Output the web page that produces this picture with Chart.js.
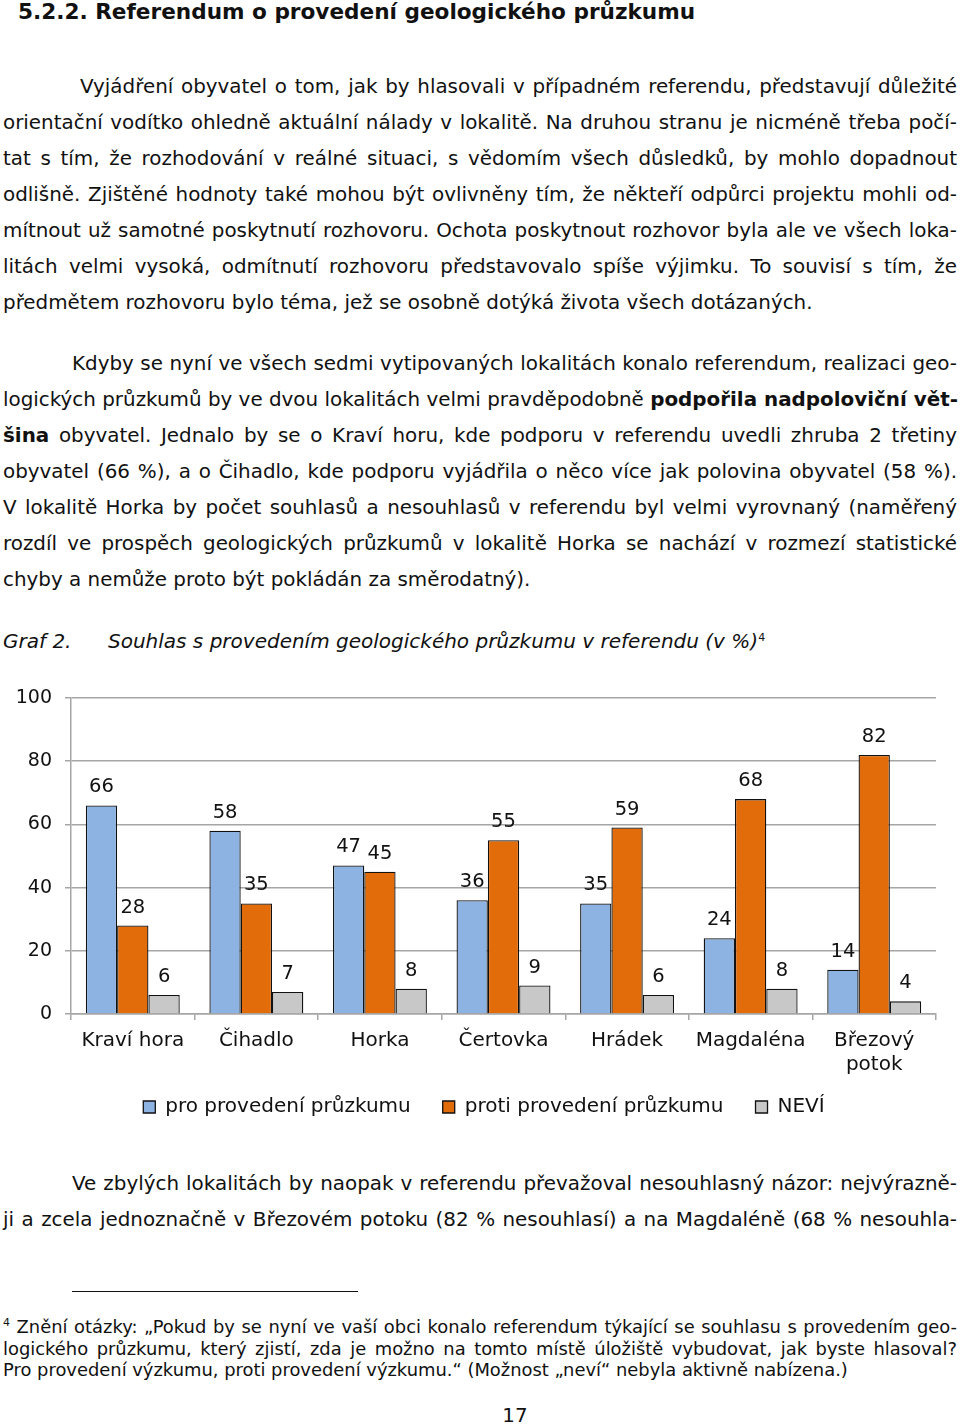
<!DOCTYPE html>
<html lang="cs">
<head>
<meta charset="utf-8">
<script src="https://cdn.jsdelivr.net/npm/chart.js@4"></script>
<style>
    body { margin: 0; background: #fff; width: 960px; height: 1425px; position: relative; overflow: hidden;
           font-family: "DejaVu Sans", Verdana, sans-serif; color: #111; }
    .ln { position: absolute; left: 3px; width: 954px; font-size: 19.9px; line-height: 36px; height: 36px;
          text-align: justify; text-align-last: justify; white-space: nowrap; }
    .ln.last { text-align-last: left; }
    .fn { position: absolute; left: 3px; width: 954px; font-size: 17.9px; line-height: 22px; height: 22px;
          text-align: justify; text-align-last: justify; white-space: nowrap; }
    .fn.last { text-align-last: left; }
    .sup { position: relative; top: -7px; font-size: 11px; line-height: 0; }
    h2 { position: absolute; left: 18px; top: -2px; margin: 0; font-size: 21.6px; line-height: 28px; }
    .cap { position: absolute; top: 623px; font-size: 20px; line-height: 36px; font-style: italic; }
    #chartBox { position: absolute; left: 0; top: 680px; width: 960px; height: 450px; }
</style>
</head>
<body>
<h2>5.2.2. Referendum o provedení geologického průzkumu</h2>

<div class="ln" style="top:69px; left:80px; width:877px;">Vyjádření obyvatel o tom, jak by hlasovali v případném referendu, představují důležité</div>
<div class="ln" style="top:105px;">orientační vodítko ohledně aktuální nálady v lokalitě. Na druhou stranu je nicméně třeba počí-</div>
<div class="ln" style="top:141px;">tat s tím, že rozhodování v reálné situaci, s vědomím všech důsledků, by mohlo dopadnout</div>
<div class="ln" style="top:177px;">odlišně. Zjištěné hodnoty také mohou být ovlivněny tím, že někteří odpůrci projektu mohli od-</div>
<div class="ln" style="top:213px;">mítnout už samotné poskytnutí rozhovoru. Ochota poskytnout rozhovor byla ale ve všech loka-</div>
<div class="ln" style="top:249px;">litách velmi vysoká, odmítnutí rozhovoru představovalo spíše výjimku. To souvisí s tím, že</div>
<div class="ln last" style="top:285px;">předmětem rozhovoru bylo téma, jež se osobně dotýká života všech dotázaných.</div>

<div class="ln" style="top:346px; left:72px; width:885px;">Kdyby se nyní ve všech sedmi vytipovaných lokalitách konalo referendum, realizaci geo-</div>
<div class="ln" style="top:382px;">logických průzkumů by ve dvou lokalitách velmi pravděpodobně <b>podpořila nadpoloviční vět-</b></div>
<div class="ln" style="top:418px;"><b>šina</b> obyvatel. Jednalo by se o Kraví horu, kde podporu v referendu uvedli zhruba 2 třetiny</div>
<div class="ln" style="top:454px;">obyvatel (66 %), a o Čihadlo, kde podporu vyjádřila o něco více jak polovina obyvatel (58 %).</div>
<div class="ln" style="top:490px;">V lokalitě Horka by počet souhlasů a nesouhlasů v referendu byl velmi vyrovnaný (naměřený</div>
<div class="ln" style="top:526px;">rozdíl ve prospěch geologických průzkumů v lokalitě Horka se nachází v rozmezí statistické</div>
<div class="ln last" style="top:562px;">chyby a nemůže proto být pokládán za směrodatný).</div>

<div class="cap" style="left:3px;">Graf 2.</div>
<div class="cap" style="left:108px;">Souhlas s provedením geologického průzkumu v referendu (v %)<span class="sup" style="font-style:normal;">4</span></div>

<div id="chartBox"><canvas id="graf" width="960" height="450"></canvas></div>

<div class="ln" style="top:1166px; left:72px; width:885px;">Ve zbylých lokalitách by naopak v referendu převažoval nesouhlasný názor: nejvýrazně-</div>
<div class="ln" style="top:1202px;">ji a zcela jednoznačně v Březovém potoku (82 % nesouhlasí) a na Magdaléně (68 % nesouhla-</div>

<div style="position:absolute; left:72px; top:1291px; width:286px; height:1px; background:#111;"></div>

<div class="fn" style="top:1316px;"><span class="sup">4</span> Znění otázky: „Pokud by se nyní ve vaší obci konalo referendum týkající se souhlasu s provedením geo-</div>
<div class="fn" style="top:1338px;">logického průzkumu, který zjistí, zda je možno na tomto místě úložiště vybudovat, jak byste hlasoval?</div>
<div class="fn last" style="top:1359px;">Pro provedení výzkumu, proti provedení výzkumu.“ (Možnost „neví“ nebyla aktivně nabízena.)</div>

<div style="position:absolute; left:0; width:1030px; text-align:center; top:1404px; font-size:19.9px; line-height:24px;">17</div>

<script>
const lokality = ["Kraví hora", "Čihadlo", "Horka", "Čertovka", "Hrádek", "Magdaléna", ["Březový", "potok"]];
const proPruzkum = [66, 58, 47, 36, 35, 24, 14];
const protiPruzkumu = [28, 35, 45, 55, 59, 68, 82];
const nevi = [6, 7, 8, 9, 6, 8, 4];
const osaY = [0, 20, 40, 60, 80, 100];

const FONT = "'DejaVu Sans', Verdana, sans-serif";

// popisky hodnot nad sloupci
const hodnotyPlugin = {
    id: "hodnoty",
    afterLayout(chart) {
        // aby se druhý řádek "potok" neořízl
        chart.scales.x.bottom = chart.height;
        // legenda je v originále trochu víc vpravo
        chart.legend.left += 16;
        chart.legend.right += 16;
    },
    afterDatasetsDraw(chart) {
        const ctx = chart.ctx;
        ctx.save();
        ctx.font = "19.5px " + FONT;
        ctx.fillStyle = "#111";
        ctx.textAlign = "center";
        ctx.textBaseline = "alphabetic";
        chart.data.datasets.forEach((ds, i) => {
            chart.getDatasetMeta(i).data.forEach((bar, j) => {
                ctx.fillText(ds.data[j], bar.x, bar.y - 13);
            });
        });
        ctx.restore();
    }
};

new Chart(document.getElementById("graf"), {
    type: "bar",
    data: {
        labels: lokality,
        datasets: [
            { label: "pro provedení průzkumu", data: proPruzkum, backgroundColor: "#8db3e2" },
            { label: "proti provedení průzkumu", data: protiPruzkumu, backgroundColor: "#e36c0a" },
            { label: "NEVÍ", data: nevi, backgroundColor: "#c8c8c8" }
        ].map(d => Object.assign(d, {
            borderColor: "#111",
            borderWidth: 1.3,
            categoryPercentage: 0.76,
            barPercentage: 1.0
        }))
    },
    options: {
        responsive: false,
        animation: false,
        devicePixelRatio: 1,
        layout: { padding: { top: 18, right: 24, left: 0, bottom: 3 } },
        plugins: {
            legend: {
                position: "bottom",
                labels: {
                    font: { family: FONT, size: 20 },
                    color: "#111",
                    boxWidth: 12,
                    boxHeight: 12,
                    padding: 32
                }
            },
            tooltip: { enabled: false }
        },
        scales: {
            y: {
                min: 0,
                max: 100,
                afterFit: s => { s.width = 71; s.paddingTop = 0; s.paddingBottom = 0; },
                afterBuildTicks: s => { s.ticks = osaY.map(v => ({ value: v })); },
                ticks: { font: { family: FONT, size: 19 }, color: "#111", padding: 13 },
                grid: { color: "#a6a6a6", lineWidth: 1.5, tickLength: 6 },
                border: { color: "#a6a6a6", width: 1.5 }
            },
            x: {
                afterFit: s => { s.height = 51; },
                ticks: { font: { family: FONT, size: 20 }, color: "#111", padding: 9 },
                grid: { display: true, drawOnChartArea: false, color: "#a6a6a6", lineWidth: 1.5, tickLength: 6 },
                border: { color: "#a6a6a6", width: 1.5 }
            }
        }
    },
    plugins: [hodnotyPlugin]
});
</script>
</body>
</html>
